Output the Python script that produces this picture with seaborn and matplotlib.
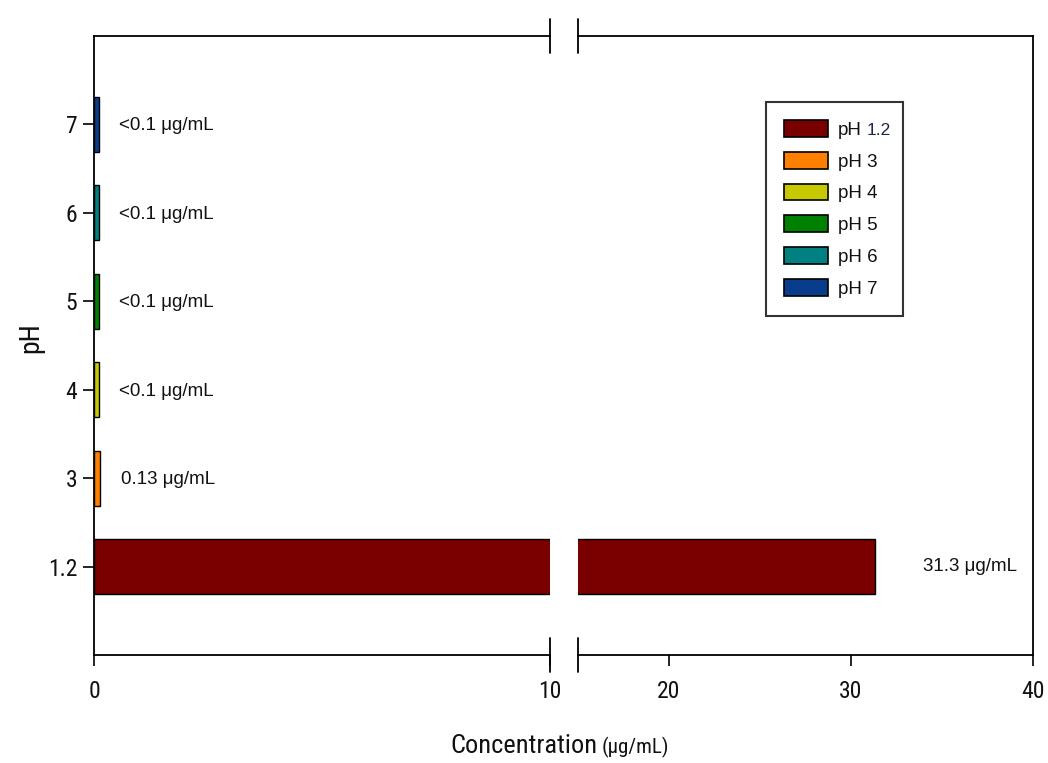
import matplotlib
matplotlib.use("Agg")
import matplotlib.pyplot as plt
from matplotlib.patches import Patch
import seaborn as sns
import pandas as pd

# ---- data -------------------------------------------------------------
ph_levels = ["1.2", "3", "4", "5", "6", "7"]
concentrations = [31.3, 0.13, 0.1, 0.1, 0.1, 0.1]
value_labels = ["31.3 μg/mL", "0.13 μg/mL", "<0.1 μg/mL", "<0.1 μg/mL",
                "<0.1 μg/mL", "<0.1 μg/mL"]
legend_labels = ["pH", "pH 3", "pH 4", "pH 5", "pH 6", "pH 7"]
legend_suffix = "1.2"
bar_colors = ["#7a0000", "#ff8000", "#c8c800", "#008000", "#008080", "#0a3c8c"]
left_ticks = [0, 10]
right_ticks = [20, 30, 40]

df = pd.DataFrame({"pH": ph_levels, "conc": concentrations})
palette = dict(zip(ph_levels, bar_colors))
order = ph_levels[::-1]          # pH 7 on top, pH 1.2 at the bottom

# ---- style ------------------------------------------------------------
sns.set_theme(style="white")
plt.rcParams["font.family"] = ["Liberation Sans", "DejaVu Sans"]
narrow_family = ["Roboto Condensed", "Liberation Sans", "DejaVu Sans"]
ink = "#111111"

W, H = 1048, 763
fig = plt.figure(figsize=(W / 100, H / 100), dpi=100)

ax_bottom, ax_top = 655, 36
ax_h = (ax_bottom - ax_top) / H
ax_y = (H - ax_bottom) / H
axL = fig.add_axes([94 / W, ax_y, (550 - 94) / W, ax_h])
axR = fig.add_axes([578 / W, ax_y, (1033 - 578) / W, ax_h])

for ax in (axL, axR):
    sns.barplot(data=df, x="conc", y="pH", hue="pH", palette=palette,
                order=order, hue_order=order, orient="h", errorbar=None,
                width=0.62, edgecolor="black", linewidth=1.0,
                saturation=1, legend=False, ax=ax)
    ax.set_ylim(len(order), -1)
    ax.set_xlabel("")
    ax.set_ylabel("")
    ax.tick_params(axis="both", direction="out", length=8, width=1.2,
                   color="black")
    for s in ax.spines.values():
        s.set_linewidth(1.3)
        s.set_color("black")

axL.set_xlim(0, 10)
axL.set_xticks(left_ticks)
axR.set_xlim(15, 40)
axR.set_xticks(right_ticks)

axL.spines["right"].set_visible(False)
axR.spines["left"].set_visible(False)
axR.tick_params(axis="y", left=False, labelleft=False)
axL.tick_params(axis="y", left=True, pad=4)
axL.tick_params(axis="x", bottom=True, pad=10)
axR.tick_params(axis="x", bottom=True, pad=10)

for ax in (axL, axR):
    for lab in ax.get_xticklabels() + ax.get_yticklabels():
        lab.set_fontfamily(narrow_family)
        lab.set_fontsize(17)
        lab.set_color(ink)

# break marks crossing the top and bottom spines
dy = 17 / (ax_bottom - ax_top)
for ax, xa in ((axL, 1.0), (axR, 0.0)):
    for ya in (0.0, 1.0):
        ax.plot([xa, xa], [ya - dy, ya + dy], transform=ax.transAxes,
                color="black", lw=1.3, clip_on=False)

# value labels
for ph, val, txt in zip(ph_levels, concentrations, value_labels):
    pos = order.index(ph)
    if val > 10:
        axR.annotate(txt, (val, pos), xytext=(35, 0),
                     textcoords="offset points", va="center", ha="left",
                     fontsize=13.5, color=ink)
    else:
        axL.annotate(txt, (val, pos), xytext=(15, -1),
                     textcoords="offset points", va="center", ha="left",
                     fontsize=13.5, color=ink)

# legend
handles = [Patch(facecolor=c, edgecolor="black", linewidth=1.2)
           for c in bar_colors]
x0 = (766 - 578) / 455
y0 = (ax_bottom - 318) / 619
leg = axR.legend(handles, legend_labels, loc="upper left",
                 bbox_to_anchor=(x0, y0, (903 - 766) / 455, (318 - 102) / 619),
                 mode="expand", frameon=True, fancybox=False, shadow=False,
                 fontsize=13.5, handlelength=2.35, handleheight=1.0,
                 handletextpad=0.5, labelspacing=0.69, borderpad=0.97,
                 borderaxespad=0)
leg.get_frame().set_edgecolor("black")
leg.get_frame().set_linewidth(1.5)
for t in leg.get_texts():
    t.set_color(ink)

# settle the legend layout so its first label can anchor the "1.2" suffix
fig.canvas.draw()
suffix = fig.text(0, 0, legend_suffix, fontsize=12.5, color="#1c2648")
first = leg.get_texts()[0]
bb = first.get_window_extent()
suffix.set_position(first.get_position())
suffix.set_transform(matplotlib.transforms.offset_copy(
    first.get_transform(), fig=fig, x=bb.width + 5, y=0, units="dots"))
suffix.set_ha(first.get_ha())
suffix.set_va(first.get_va())

# axis titles
fig.text(598 / W, (H - 753) / H, "Concentration", ha="right", va="baseline",
         fontsize=19, family=narrow_family, color=ink)
fig.text(602 / W, (H - 753) / H, "(μg/mL)", ha="left", va="baseline",
         fontsize=15, family=narrow_family, color=ink)
fig.text(31 / W, (H - 338) / H, "pH", ha="center", va="center",
         rotation=90, fontsize=20, family=narrow_family, color=ink)

fig.savefig("out.png", dpi=100, facecolor="white")
